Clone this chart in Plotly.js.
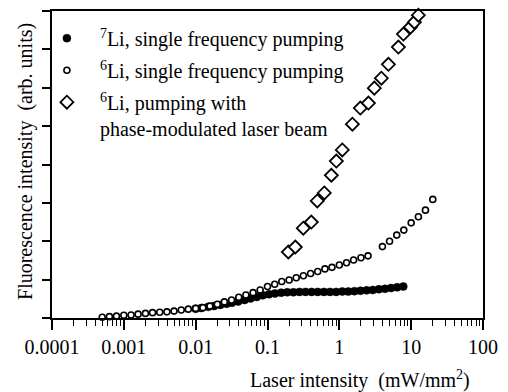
<!DOCTYPE html>
<html>
<head>
<meta charset="utf-8">
<script src="https://cdn.plot.ly/plotly-3.0.1.min.js"></script>
<style>html,body{margin:0;padding:0;background:#fff}#chart{width:508px;height:392px}</style>
</head>
<body>
<div id="chart"></div>
<script>
// 7Li, single frequency pumping (filled circles)
var li7X = [0.010, 0.012, 0.015, 0.018, 0.022, 0.027, 0.032, 0.039, 0.048, 0.058, 0.071, 0.086, 0.105, 0.127, 0.155, 0.188, 0.229, 0.279, 0.339, 0.412, 0.501, 0.61, 0.741, 0.902, 1.10, 1.33, 1.62, 1.97, 2.40, 2.92, 3.55, 4.32, 5.25, 6.38, 7.76];
var li7Y = [0.24, 0.26, 0.29, 0.31, 0.34, 0.37, 0.40, 0.43, 0.47, 0.51, 0.55, 0.59, 0.62, 0.64, 0.66, 0.67, 0.67, 0.68, 0.68, 0.68, 0.68, 0.68, 0.68, 0.68, 0.69, 0.69, 0.70, 0.71, 0.72, 0.73, 0.75, 0.76, 0.78, 0.80, 0.82];

// 6Li, single frequency pumping (open circles)
var li6X = [0.0005, 0.00063, 0.00079, 0.001, 0.00126, 0.00158, 0.002, 0.00251, 0.00316, 0.00398, 0.005, 0.0063, 0.0079, 0.01, 0.0126, 0.0158, 0.02, 0.0251, 0.0316, 0.0398, 0.05, 0.063, 0.079, 0.1, 0.126, 0.158, 0.2, 0.251, 0.316, 0.398, 0.5, 0.63, 0.79, 1.0, 1.26, 1.58, 2.0, 2.51, 3.98, 5.0, 6.3, 7.9, 10, 12.6, 15.8, 20];
var li6Y = [0.02, 0.035, 0.05, 0.07, 0.08, 0.10, 0.12, 0.14, 0.15, 0.16, 0.18, 0.21, 0.23, 0.25, 0.27, 0.31, 0.36, 0.42, 0.47, 0.54, 0.60, 0.66, 0.73, 0.82, 0.88, 0.95, 0.99, 1.05, 1.10, 1.16, 1.21, 1.28, 1.32, 1.38, 1.44, 1.51, 1.57, 1.62, 1.86, 2.00, 2.16, 2.29, 2.48, 2.64, 2.81, 3.09];

// 6Li, pumping with phase-modulated laser beam (open diamonds)
var pmX = [0.195, 0.244, 0.315, 0.407, 0.493, 0.618, 0.774, 0.908, 1.10, 1.52, 1.96, 2.54, 3.07, 3.85, 4.82, 6.64, 7.80, 9.77, 11.1, 12.6];
var pmY = [1.72, 1.85, 2.34, 2.50, 3.05, 3.26, 3.72, 4.09, 4.38, 5.05, 5.47, 5.60, 5.99, 6.25, 6.61, 7.06, 7.40, 7.58, 7.71, 7.89];

var seriesNames = [
  '<sup>7</sup>Li, single frequency pumping',
  '<sup>6</sup>Li, single frequency pumping',
  '<sup>6</sup>Li, pumping with<br>phase-modulated laser beam'
];

var FONT = 'Liberation Serif';

var traces = [
  {x: li7X, y: li7Y, name: seriesNames[0], legendgroup: 'g1', type: 'scatter', mode: 'markers', cliponaxis: false,
   marker: {symbol: 'circle', size: 8, color: '#000', line: {color: '#000', width: 0.5}}},
  {x: li6X, y: li6Y, name: seriesNames[1], legendgroup: 'g2', type: 'scatter', mode: 'markers', cliponaxis: false,
   marker: {symbol: 'circle', size: 6, color: '#fff', line: {color: '#000', width: 1.6}}},
  {x: pmX, y: pmY, name: seriesNames[2], legendgroup: 'g3', type: 'scatter', mode: 'markers', cliponaxis: false,
   marker: {symbol: 'diamond', size: 10, color: '#fff', line: {color: '#000', width: 1.8}}}
];

var layout = {
  width: 508, height: 392,
  margin: {l: 52, r: 25, t: 11, b: 74},
  paper_bgcolor: '#fff', plot_bgcolor: '#fff',
  showlegend: true,
  font: {family: FONT, size: 20, color: '#000'},
  xaxis: {
    type: 'log', range: [-4, 2],
    tickmode: 'linear', tick0: 0, dtick: 1, exponentformat: 'none',
    ticks: 'outside', ticklen: 10, tickwidth: 1.5, tickcolor: '#000',
    showline: true, linecolor: '#000', linewidth: 1.5, mirror: true,
    showgrid: false, zeroline: false,
    tickfont: {family: FONT, size: 20, color: '#000'},
    minor: {dtick: 'D1', ticks: 'outside', ticklen: 6, tickwidth: 1.2, tickcolor: '#000'}
  },
  yaxis: {
    range: [0, 8], tick0: 0, dtick: 1,
    ticks: 'outside', ticklen: 8, tickwidth: 1.5, tickcolor: '#000',
    showticklabels: false,
    showline: true, linecolor: '#000', linewidth: 1.5, mirror: true,
    showgrid: false, zeroline: false
  },
  legend: {
    x: -0.042, y: 0.975, xanchor: 'left', yanchor: 'top',
    bgcolor: 'rgba(0,0,0,0)', borderwidth: 0,
    font: {family: FONT, size: 20, color: '#000'},
    itemwidth: 56, valign: 'top', tracegroupgap: 3
  },
  annotations: [
    {text: 'Laser intensity\u00A0 (mW/mm<sup>2</sup>)', xref: 'paper', yref: 'paper',
     x: 0.7135, y: -0.2, xanchor: 'center', yanchor: 'middle', showarrow: false,
     font: {family: FONT, size: 20, color: '#000'}},
    {text: 'Fluorescence intensity\u00A0 (arb. units)', xref: 'paper', yref: 'paper',
     x: -0.063, y: 0.511, xanchor: 'center', yanchor: 'middle', textangle: -90, showarrow: false,
     font: {family: FONT, size: 20, color: '#000'}}
  ]
};

Plotly.newPlot('chart', traces, layout, {displayModeBar: false});
</script>
</body>
</html>
